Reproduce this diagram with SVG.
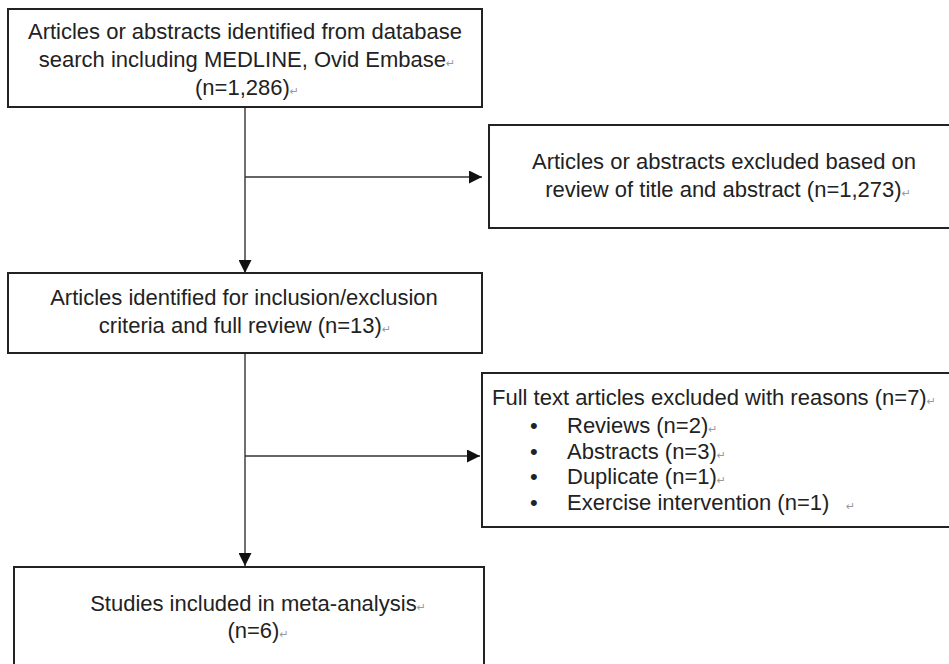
<svg xmlns="http://www.w3.org/2000/svg" width="949" height="664" viewBox="0 0 949 664">
<defs>
<style>
.box{fill:#fff;stroke:#222;stroke-width:2}
.t{font-family:"Liberation Sans",Arial,sans-serif;font-size:22px;fill:#222}
.c{text-anchor:middle}
.pm{font-family:"DejaVu Sans",sans-serif;font-size:11px;fill:#999}
.ln{stroke:#333;stroke-width:1.4;fill:none}
</style>
<marker id="ah" viewBox="0 0 13 13" refX="13" refY="6.5" markerWidth="13" markerHeight="13" markerUnits="userSpaceOnUse" orient="auto">
<path d="M0,0 L13,6.5 L0,13 Z" fill="#111"/>
</marker>
</defs>
<rect width="949" height="664" fill="#fff"/>
<g id="connectors">
<line class="ln" x1="245" y1="107" x2="245" y2="273" marker-end="url(#ah)"/>
<line class="ln" x1="245" y1="177" x2="482" y2="177" marker-end="url(#ah)"/>
<line class="ln" x1="245" y1="353" x2="245" y2="566" marker-end="url(#ah)"/>
<line class="ln" x1="245" y1="456" x2="480" y2="456" marker-end="url(#ah)"/>
</g>
<g id="n1">
<rect class="box" x="8" y="9" width="474" height="98"/>
<text class="t c" x="245" y="39">Articles or abstracts identified from database</text>
<text class="t c" x="247" y="67">search including MEDLINE, Ovid Embase<tspan class="pm">↵</tspan></text>
<text class="t c" x="247" y="95">(n=1,286)<tspan class="pm">↵</tspan></text>
</g>
<g id="n2">
<rect class="box" x="489" y="125" width="470" height="103"/>
<text class="t c" x="724" y="169">Articles or abstracts excluded based on</text>
<text class="t c" x="728" y="197">review of title and abstract (n=1,273)<tspan class="pm">↵</tspan></text>
</g>
<g id="n3">
<rect class="box" x="8" y="273" width="474" height="80"/>
<text class="t c" x="244" y="305">Articles identified for inclusion/exclusion</text>
<text class="t c" x="245" y="333">criteria and full review (n=13)<tspan class="pm">↵</tspan></text>
</g>
<g id="n4">
<rect class="box" x="482" y="373" width="477" height="154"/>
<text class="t" x="492" y="405">Full text articles excluded with reasons (n=7)<tspan class="pm">↵</tspan></text>
<text class="t" x="530" y="433">•</text>
<text class="t" x="567" y="433">Reviews (n=2)<tspan class="pm">↵</tspan></text>
<text class="t" x="530" y="459">•</text>
<text class="t" x="567" y="459">Abstracts (n=3)<tspan class="pm">↵</tspan></text>
<text class="t" x="530" y="484">•</text>
<text class="t" x="567" y="484">Duplicate (n=1)<tspan class="pm">↵</tspan></text>
<text class="t" x="530" y="510">•</text>
<text class="t" x="567" y="510">Exercise intervention (n=1)</text>
<text class="pm" x="846" y="510">↵</text>
</g>
<g id="n5">
<rect class="box" x="14" y="567" width="470" height="100"/>
<text class="t c" x="258" y="611">Studies included in meta-analysis<tspan class="pm">↵</tspan></text>
<text class="t c" x="258" y="638">(n=6)<tspan class="pm">↵</tspan></text>
</g>
</svg>
